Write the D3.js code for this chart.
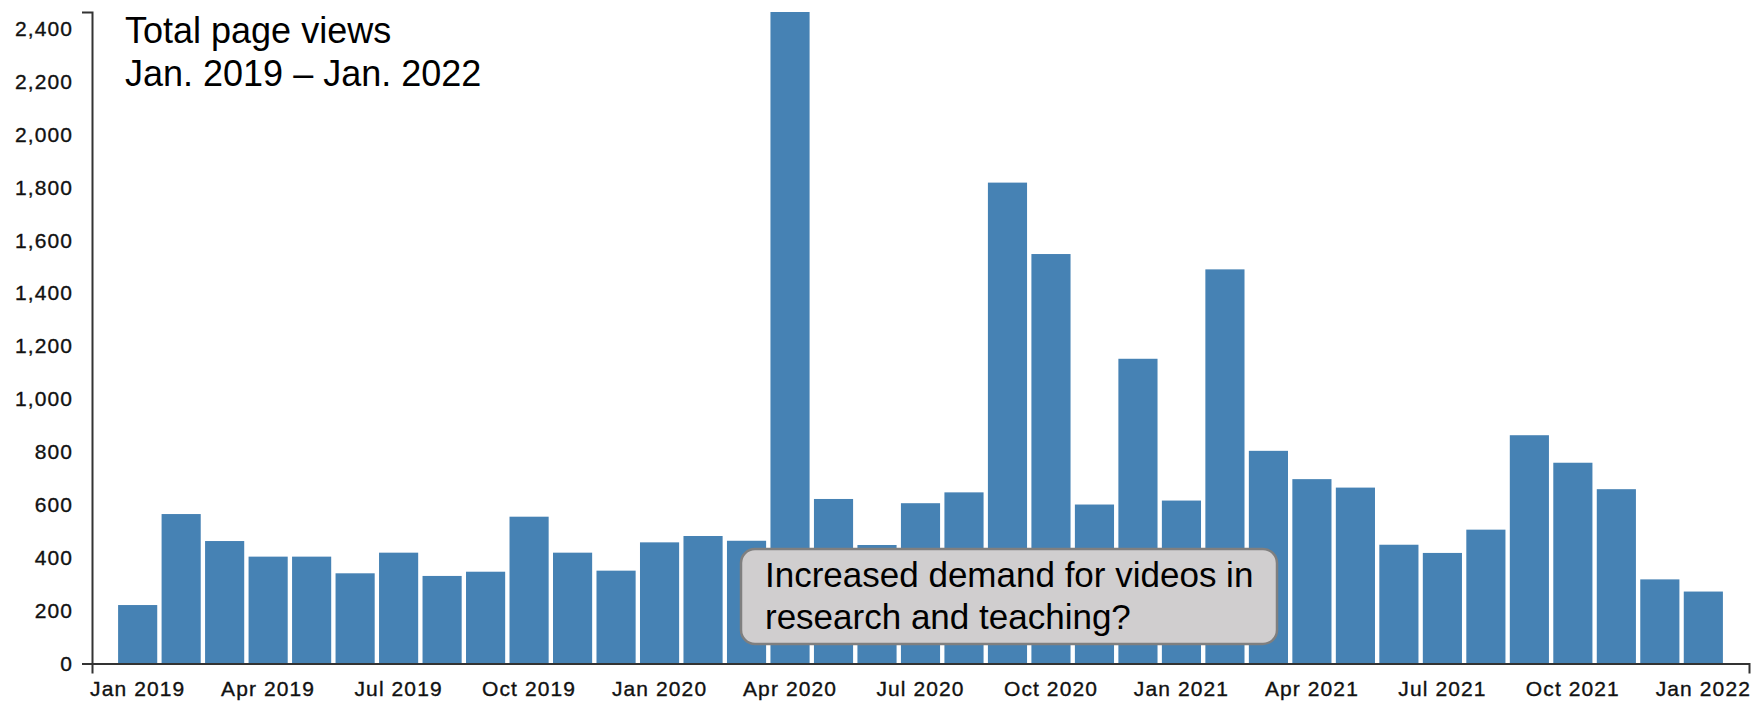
<!DOCTYPE html>
<html>
<head>
<meta charset="utf-8">
<script src="https://cdn.jsdelivr.net/npm/d3@7"></script>
<style>
  body { margin: 0; background: #fff; }
  text { font-family: "Liberation Sans", Arial, sans-serif; }
</style>
</head>
<body>
<div id="chart"></div>
<script>
// monthly page views
var months = [
  "2019-01", "2019-02", "2019-03", "2019-04", "2019-05", "2019-06",
  "2019-07", "2019-08", "2019-09", "2019-10", "2019-11", "2019-12",
  "2020-01", "2020-02", "2020-03", "2020-04", "2020-05", "2020-06",
  "2020-07", "2020-08", "2020-09", "2020-10", "2020-11", "2020-12",
  "2021-01", "2021-02", "2021-03", "2021-04", "2021-05", "2021-06",
  "2021-07", "2021-08", "2021-09", "2021-10", "2021-11", "2021-12",
  "2022-01"
];
var views = [
  221, 565, 463, 404, 404, 341, 419, 331, 347, 555, 419, 351,
  458, 482, 464, 2463, 622, 448, 606, 647, 1818, 1548, 601, 1152,
  616, 1490, 804, 697, 665, 449, 418, 506, 863, 759, 659, 318,
  272
];
var yTicks = [0, 200, 400, 600, 800, 1000, 1200, 1400, 1600, 1800, 2000, 2200, 2400];
var titleLines = ["Total page views", "Jan. 2019 \u2013 Jan. 2022"];
var noteLines = ["Increased demand for videos in", "research and teaching?"];

var svgWidth = 1756;
var svgHeight = 704;

var margin = { top: 12, right: 7, bottom: 40.5, left: 92 };
var width = svgWidth - margin.left - margin.right;
var height = svgHeight - margin.top - margin.bottom;

var svg = d3.select("#chart")
  .append("svg")
  .attr("width", svgWidth)
  .attr("height", svgHeight);

var chartGroup = svg.append("g")
  .attr("transform", `translate(${margin.left}, ${margin.top})`);

var parseMonth = d3.timeParse("%Y-%m");
var fmtMonth = d3.timeFormat("%b %Y");

var xBandScale = d3.scaleBand()
  .domain(months)
  .range([0, width])
  .paddingInner(0.1)
  .paddingOuter(0.6);

var yLinearScale = d3.scaleLinear()
  .domain([0, d3.max(views)])
  .range([height, 0]);

var barData = months.map((m, i) => ({ month: m, value: views[i] }));

chartGroup.selectAll(".bar")
  .data(barData)
  .enter()
  .append("rect")
  .attr("class", "bar")
  .attr("x", d => xBandScale(d.month))
  .attr("y", d => yLinearScale(d.value))
  .attr("width", xBandScale.bandwidth())
  .attr("height", d => height - yLinearScale(d.value))
  .attr("fill", "steelblue");

var bottomAxis = d3.axisBottom(xBandScale)
  .tickValues(months.filter((m, i) => i % 3 === 0))
  .tickFormat(m => fmtMonth(parseMonth(m)))
  .tickSizeInner(0)
  .tickSizeOuter(10)
  .tickPadding(18);

var leftAxis = d3.axisLeft(yLinearScale)
  .tickValues(yTicks)
  .tickFormat(d3.format(","))
  .tickSizeInner(0)
  .tickSizeOuter(10)
  .tickPadding(19);

var xAxis = chartGroup.append("g")
  .attr("transform", `translate(0, ${height})`)
  .call(bottomAxis);

var yAxis = chartGroup.append("g")
  .call(leftAxis);

[xAxis, yAxis].forEach(function(ax) {
  ax.attr("font-family", null).attr("font-size", null);
  ax.select(".domain").attr("stroke", "#333").attr("stroke-width", 2);
  ax.selectAll("text")
    .attr("fill", "#111")
    .attr("stroke", "#111")
    .attr("stroke-width", 0.35)
    .style("font-size", "21px")
    .style("letter-spacing", "1.1px");
});

// title
svg.append("g")
  .selectAll("text")
  .data(titleLines)
  .enter()
  .append("text")
  .attr("x", 125)
  .attr("y", (d, i) => 43 + i * 43)
  .attr("font-size", "36px")
  .attr("fill", "#000")
  .text(d => d);

// annotation box
var note = svg.append("g");
note.append("rect")
  .attr("x", 741)
  .attr("y", 549)
  .attr("width", 536)
  .attr("height", 95)
  .attr("rx", 14)
  .attr("fill", "#d0cecf")
  .attr("stroke", "#7f7f7f")
  .attr("stroke-width", 2.5);

note.selectAll("text")
  .data(noteLines)
  .enter()
  .append("text")
  .attr("x", 765)
  .attr("y", (d, i) => 587 + i * 42)
  .attr("font-size", "35px")
  .attr("fill", "#000")
  .text(d => d);
</script>
</body>
</html>
